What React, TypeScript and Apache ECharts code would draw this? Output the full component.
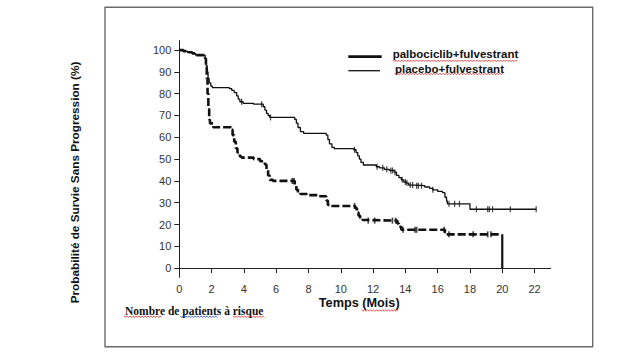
import React, { useEffect, useRef } from "react";
import * as echarts from "echarts";

const xTicks = [0, 2, 4, 6, 8, 10, 12, 14, 16, 18, 20, 22];
const yTicks = [0, 10, 20, 30, 40, 50, 60, 70, 80, 90, 100];

const seriesNames = ["palbociclib+fulvestrant", "placebo+fulvestrant"];

// Kaplan-Meier curve (upper, thin solid) : [mois, %]
const upperCurve: [number, number][] = [
  [0, 100], [0.25, 99.5], [0.5, 99], [0.8, 98.5], [1.0, 97.7], [1.6, 96], [1.65, 93], [1.72, 90],
  [1.78, 87], [1.85, 85], [1.95, 83.5], [2.05, 82.8], [3.1, 82.3], [3.25, 81.5], [3.4, 80.5],
  [3.55, 79], [3.65, 77.5], [3.75, 76.3], [3.95, 75.6], [4.6, 75.2], [5.2, 74], [5.3, 72.5],
  [5.4, 71], [5.5, 70], [5.6, 69.1], [7.15, 68.2], [7.25, 66.5], [7.35, 64.5], [7.5, 62.6],
  [7.7, 61.8], [9.1, 61], [9.2, 59], [9.3, 57], [9.45, 55.4], [9.6, 54.8], [10.8, 54.3],
  [10.95, 53], [11.05, 51.5], [11.15, 50], [11.25, 48.5], [11.4, 47.3], [12.2, 46.5], [12.4, 46],
  [12.7, 45.3], [13.0, 44.8], [13.3, 44], [13.45, 42.5], [13.6, 41.5], [13.75, 40.5], [13.9, 39.5],
  [14.05, 39], [14.2, 38.1], [14.6, 37.8], [15.2, 37.2], [15.5, 36.6], [15.7, 35.9], [16.0, 35.2],
  [16.3, 34.6], [16.45, 32.5], [16.55, 30.8], [16.6, 29.5], [18.0, 27.0], [22.1, 27.0],
];

const upperCensored: [number, number][] = [
  [3.86, 76.3], [5.1, 75.2], [5.65, 69.1], [10.85, 54.3], [12.25, 46.5], [12.6, 46], [12.85, 45.3],
  [13.1, 44.8], [13.2, 44.8], [13.35, 44], [13.8, 40.5], [14.0, 39.5], [14.1, 39], [14.3, 38.1],
  [14.45, 38.1], [14.7, 37.8], [14.8, 37.8], [15.0, 37.8], [15.7, 35.9], [16.7, 29.5], [17.05, 29.5],
  [17.35, 29.5], [18.4, 27], [19.1, 27], [19.2, 27], [19.4, 27], [20.5, 27], [22.1, 27],
];

// Kaplan-Meier curve (lower, thick dashed)
const lowerCurve: [number, number][] = [
  [0, 100], [0.25, 99.5], [0.5, 99], [0.8, 98.5], [1.0, 97.7], [1.6, 96], [1.65, 92], [1.7, 87],
  [1.75, 80], [1.8, 73], [1.85, 68], [1.9, 66.4], [2.1, 64.6], [3.2, 63.5], [3.3, 61], [3.4, 58],
  [3.5, 55], [3.6, 53], [3.75, 51.2], [3.86, 50.7], [4.6, 50], [5.0, 49], [5.3, 47.5], [5.4, 45],
  [5.5, 42.5], [5.6, 40.5], [5.8, 40], [7.15, 38], [7.25, 36], [7.35, 34.5], [7.5, 34], [7.9, 33.5],
  [8.6, 33], [9.1, 31], [9.2, 29], [9.3, 28.5], [10.9, 27.5], [11.0, 25.5], [11.1, 24], [11.2, 23],
  [11.35, 22.1], [11.45, 21.8], [13.5, 20.5], [13.6, 19], [13.75, 17.6], [16.45, 16.5],
  [16.55, 15.5], [19.8, 15.5],
];

// final drop of the lower curve at 20 months
const lowerDrop: [number, number][] = [
  [20, 15.5], [20, 0],
];

const lowerCensored: [number, number][] = [
  [7.0, 40], [7.1, 40], [10.85, 28.5], [11.7, 21.8], [12.1, 21.8], [13.2, 21.8], [13.4, 21.8],
  [13.85, 17.6], [14.6, 17.6], [14.7, 17.6], [16.4, 17.6], [16.7, 15.5], [18.2, 15.5], [19.1, 15.5],
  [19.3, 15.5],
];

const FONT = "'Liberation Sans', Arial, sans-serif";

function squiggle(x0: number, x1: number, y: number, color: string) {
  const pts: number[][] = [];
  let up = true;
  for (let x = x0; x <= x1; x += 1.5) {
    pts.push([x, up ? y - 0.8 : y + 0.8]);
    up = !up;
  }
  return {
    type: "polyline",
    silent: true,
    shape: { points: pts },
    style: { stroke: color, lineWidth: 0.8, fill: "none" },
  };
}

export default function App() {
  const ref = useRef<HTMLDivElement>(null);

  useEffect(() => {
    if (!ref.current) return;
    const chart = echarts.init(ref.current, null, { renderer: "svg" });
    chart.setOption({
      animation: false,
      backgroundColor: "#ffffff",
      grid: { left: 179.3, right: 90.3, top: 40.7, bottom: 80.7, containLabel: false },
      xAxis: {
        type: "value",
        min: 0,
        max: 23,
        axisLine: { show: true, lineStyle: { color: "#222", width: 1 } },
        axisTick: { show: true, length: 5, customValues: xTicks, lineStyle: { color: "#222" } },
        axisLabel: {
          customValues: xTicks,
          margin: 6,
          fontSize: 11,
          color: "#333",
          fontFamily: FONT,
        },
        splitLine: { show: false },
      },
      yAxis: {
        type: "value",
        min: -4.2,
        max: 104.3,
        axisLine: { show: true, lineStyle: { color: "#222", width: 1 } },
        axisTick: { show: true, length: 5, customValues: yTicks, lineStyle: { color: "#222" } },
        axisLabel: {
          customValues: yTicks,
          margin: 8,
          fontSize: 11,
          color: "#333",
          fontFamily: FONT,
        },
        splitLine: { show: false },
      },
      series: [
        {
          name: seriesNames[0],
          type: "line",
          step: "end",
          showSymbol: false,
          silent: true,
          data: upperCurve,
          lineStyle: { color: "#111", width: 1.3 },
        },
        {
          name: seriesNames[1],
          type: "line",
          step: "end",
          showSymbol: false,
          silent: true,
          data: lowerCurve,
          lineStyle: { color: "#111", width: 2.6, type: [8, 3] },
        },
        {
          type: "line",
          showSymbol: false,
          silent: true,
          data: lowerDrop,
          lineStyle: { color: "#111", width: 2.2 },
        },
        {
          type: "scatter",
          silent: true,
          symbol: "rect",
          symbolSize: [1.2, 6],
          data: upperCensored,
          itemStyle: { color: "#111" },
        },
        {
          type: "scatter",
          silent: true,
          symbol: "rect",
          symbolSize: [1.6, 6],
          data: lowerCensored,
          itemStyle: { color: "#111" },
        },
      ],
      graphic: [
        {
          type: "rect",
          silent: true,
          z: -10,
          shape: { x: 105, y: 7.3, width: 487.7, height: 339.4 },
          style: { fill: "none", stroke: "#6b6b6b", lineWidth: 1.4 },
        },
        {
          type: "line",
          silent: true,
          shape: { x1: 348.3, y1: 56.7, x2: 381.7, y2: 56.7 },
          style: { stroke: "#111", lineWidth: 2.7 },
        },
        {
          type: "line",
          silent: true,
          shape: { x1: 348.3, y1: 70.7, x2: 380, y2: 70.7 },
          style: { stroke: "#111", lineWidth: 1.3 },
        },
        {
          type: "text",
          silent: true,
          x: 392.7,
          y: 54,
          style: {
            text: seriesNames[0],
            font: `bold 11.5px ${FONT}`,
            fill: "#111",
            textAlign: "left",
            textVerticalAlign: "middle",
          },
        },
        {
          type: "text",
          silent: true,
          x: 395,
          y: 68.5,
          style: {
            text: seriesNames[1],
            font: `bold 11.5px ${FONT}`,
            fill: "#111",
            textAlign: "left",
            textVerticalAlign: "middle",
          },
        },
        {
          type: "text",
          silent: true,
          x: 74.3,
          y: 182.5,
          rotation: Math.PI / 2,
          style: {
            text: "Probabilité de Survie Sans Progression (%)",
            font: `bold 11.75px ${FONT}`,
            fill: "#111",
            textAlign: "center",
            textVerticalAlign: "middle",
          },
        },
        {
          type: "text",
          silent: true,
          x: 359.2,
          y: 302.5,
          style: {
            text: "Temps (Mois)",
            font: `bold 12.7px ${FONT}`,
            fill: "#111",
            textAlign: "center",
            textVerticalAlign: "middle",
          },
        },
        {
          type: "text",
          silent: true,
          x: 125,
          y: 311,
          style: {
            text: "Nombre de patients à risque",
            font: `bold 11.5px 'Liberation Serif', 'Times New Roman', serif`,
            fill: "#111",
            textAlign: "left",
            textVerticalAlign: "middle",
          },
        },
        squiggle(392.7, 518.3, 60.8, "#d9302c"),
        squiggle(395, 504.3, 74, "#d9302c"),
        squiggle(361.7, 398.3, 310.5, "#d9302c"),
        squiggle(124, 161.7, 316.7, "#d9302c"),
        squiggle(180, 218.3, 316.7, "#3050d0"),
        squiggle(232.7, 264.3, 316.7, "#d9302c"),
      ],
    });
    return () => chart.dispose();
  }, []);

  return (
    <div
      ref={ref}
      style={{ position: "fixed", left: 0, top: 0, width: 641, height: 358, background: "#fff" }}
    />
  );
}
